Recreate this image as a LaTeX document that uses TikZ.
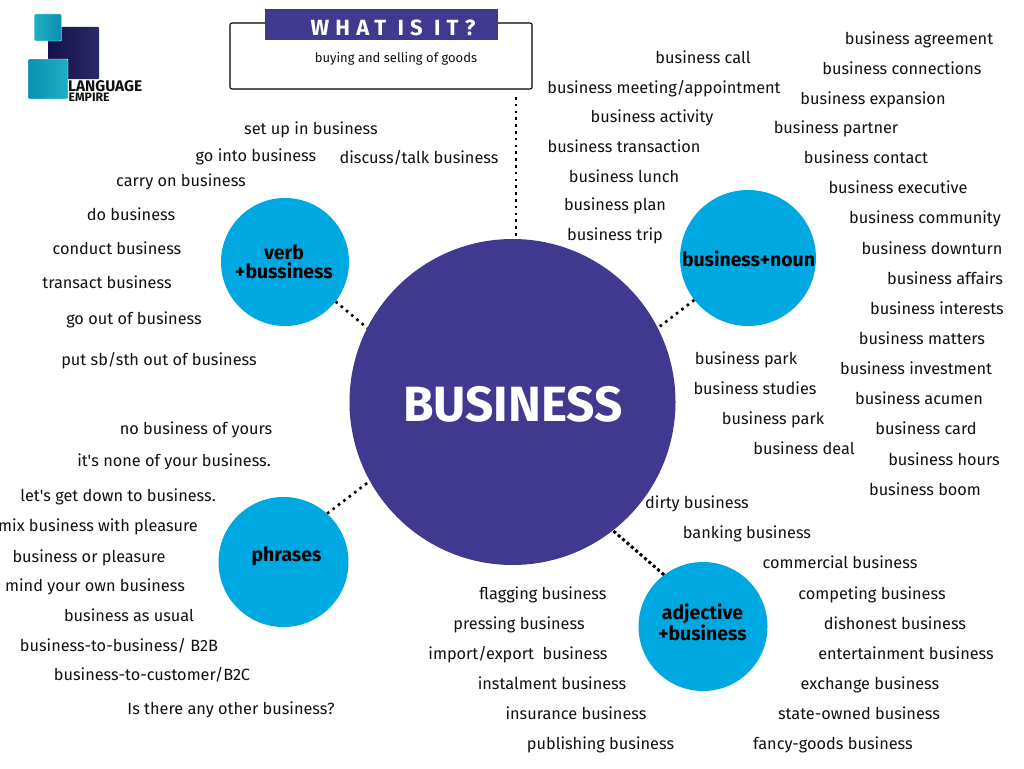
\documentclass[tikz,border=0pt]{standalone}
\usepackage{fontspec}
\usepackage{xcolor}
\usetikzlibrary{calc}
\setmainfont{Fira Sans}
\definecolor{royal}{HTML}{41398F}
\definecolor{sky}{HTML}{00A8E1}
\definecolor{ink}{HTML}{111111}
\definecolor{tealA}{HTML}{0A8FB2}
\definecolor{tealB}{HTML}{1FB0C4}
\definecolor{navyA}{HTML}{14124A}
\definecolor{navyB}{HTML}{2A2A68}
\tikzset{
  termtext/.style={text=ink,inner sep=0pt,text height=14.5pt,text depth=3.5pt,
                   font=\fontsize{16.3}{19}\selectfont},
  hubcircle/.style={circle,fill=sky,inner sep=0pt},
  hublabel/.style={inner sep=0pt,align=center,text=black,
                   font=\fontsize{19.4}{19}\selectfont\bfseries},
  mainhub/.style={circle,fill=royal,inner sep=0pt},
  dotlink/.style={draw=black,line width=2.6pt,dash pattern=on 2.6pt off 4.2pt},
  thicklink/.style={draw=black,line width=3pt,dash pattern=on 3pt off 2.8pt},
  logotile/.style={inner sep=0pt,rounded corners=1pt},
  logotext/.style={inner sep=0pt,text=ink,anchor=base west}
}
\begin{document}
\begin{tikzpicture}[x=1pt,y=-1pt]
    \path[use as bounding box,fill=white] (0,0) rectangle (1024,768);
    % logo
    \node[logotile,minimum width=51pt,minimum height=52pt,left color=navyA,right color=navyB] (lognavy) at (73.5,53) {};
    \node[logotile,draw=white,minimum width=27pt,minimum height=27pt,left color=tealB,right color=tealA] (logsmall) at (48,27.5) {};
    \node[logotile,draw=white,minimum width=40pt,minimum height=40pt,left color=tealA,right color=tealB] (logbig) at (48,79) {};
    \node[logotext,font=\fontsize{15.4}{16}\selectfont\bfseries] (logline) at (68,91) {LANGUAGE};
    \node[logotext,font=\fontsize{12.2}{13}\selectfont\bfseries] (logempire) at (68.5,101) {EMPIRE};
    % what is it box
    \node[draw=black,line width=1.1pt,rounded corners=2pt,minimum width=302pt,minimum height=66pt,inner sep=0pt] (defbox) at (381,56) {};
    \node[fill=royal,minimum width=233pt,minimum height=31pt,inner sep=0pt] (banner) at (381.5,24.5) {};
    \node[inner sep=0pt,text=white,font=\fontsize{22}{24}\selectfont\bfseries\addfontfeature{LetterSpace=28}] (bantitle) at (393,27.5) {WHAT IS IT?};
    \node[termtext,font=\fontsize{13}{15}\selectfont] (defline) at (396,57) {buying and selling of goods};
    % hubs
    \node[mainhub,minimum size=326pt] (main) at (512.5,402) {};
    \node[inner sep=0pt,text=white,font=\fontsize{49.5}{50}\selectfont\bfseries] (maintext) at (513,404) {BUSINESS};
    \node[hubcircle,minimum size=128pt] (verbhub) at (285,262) {};
    \node[hubcircle,minimum size=136pt] (nounhub) at (748,258) {};
    \node[hubcircle,minimum size=130pt] (phrasehub) at (283.5,562) {};
    \node[hubcircle,minimum size=129pt] (adjhub) at (703,626.5) {};
    \node[hublabel] (verbtext) at (284,262) {verb\\+bussiness};
    \node[hublabel] (nountext) at (748.5,259) {business+noun};
    \node[hublabel] (phrasetext) at (286.5,556.5) {phrases};
    \node[hublabel] (adjtext) at (702.5,622.5) {adjective\\+business};
    % connectors
    \coordinate (boxfoot) at (516,97);
    \draw[dotlink] (boxfoot) -- (boxfoot |- main.north);
    \draw[dotlink] (verbhub.-38) -- (main.153);
    \draw[dotlink] (nounhub.218) -- (main.27);
    \draw[dotlink] (phrasehub.48) -- (main.209.5);
    \draw[thicklink] (adjhub.127) -- (main.-52);
    % verb terms
    \node[termtext] (vsetup) at (311,129) {set up in business};
    \node[termtext] (vgointo) at (256,156) {go into business};
    \node[termtext] (vdiscuss) at (419,158) {discuss/talk business};
    \node[termtext] (vcarry) at (181,181) {carry on business};
    \node[termtext] (vdo) at (131,215) {do business};
    \node[termtext] (vconduct) at (117,249) {conduct business};
    \node[termtext] (vtransact) at (107,283) {transact business};
    \node[termtext] (vgoout) at (134,319) {go out of business};
    \node[termtext] (vputout) at (159,360) {put sb/sth out of business};
    % phrases
    \node[termtext] (pyours) at (196,429) {no business of yours};
    \node[termtext] (pnone) at (174,461) {it\textquotesingle s none of your business.};
    \node[termtext] (pdown) at (118,496) {let\textquotesingle s get down to business.};
    \node[termtext] (pmix) at (98,526) {mix business with pleasure};
    \node[termtext] (por) at (89,557) {business or pleasure};
    \node[termtext] (pmind) at (95,586) {mind your own business};
    \node[termtext] (pusual) at (129,616) {business as usual};
    \node[termtext] (pbtob) at (119,646) {business-to-business/ B2B};
    \node[termtext] (pbtoc) at (152,675) {business-to-customer/B2C};
    \node[termtext] (pother) at (231,709) {Is there any other business?};
    % adjective terms
    \node[termtext] (aflag) at (543,594) {flagging business};
    \node[termtext] (apress) at (519,624) {pressing business};
    \node[termtext] (aimport) at (518,654) {import/export\ \ business};
    \node[termtext] (ainstal) at (552,684) {instalment business};
    \node[termtext] (ainsur) at (576,714) {insurance business};
    \node[termtext] (apublish) at (600.5,744) {publishing business};
    \node[termtext] (adirty) at (697,503) {dirty business};
    \node[termtext] (abank) at (747,533) {banking business};
    \node[termtext] (acomm) at (840,563) {commercial business};
    \node[termtext] (acomp) at (872,594) {competing business};
    \node[termtext] (adish) at (895,624) {dishonest business};
    \node[termtext] (aenter) at (906,654) {entertainment business};
    \node[termtext] (aexch) at (870,684) {exchange business};
    \node[termtext] (astate) at (859,714) {state-owned business};
    \node[termtext] (afancy) at (833,744) {fancy-goods business};
    % noun terms, left column
    \node[termtext] (ncall) at (703,58) {business call};
    \node[termtext] (nmeet) at (664,88) {business meeting/appointment};
    \node[termtext] (nactiv) at (652,117) {business activity};
    \node[termtext] (ntrans) at (624,147) {business transaction};
    \node[termtext] (nlunch) at (624,177) {business lunch};
    \node[termtext] (nplan) at (615,205) {business plan};
    \node[termtext] (ntrip) at (615,235) {business trip};
    % noun terms, right column
    \node[termtext] (nagree) at (919,39) {business agreement};
    \node[termtext] (nconn) at (902,69) {business connections};
    \node[termtext] (nexpan) at (873,99) {business expansion};
    \node[termtext] (npartner) at (836,128) {business partner};
    \node[termtext] (ncontact) at (866,158) {business contact};
    \node[termtext] (nexec) at (898,188) {business executive};
    \node[termtext] (ncommun) at (925,218) {business community};
    \node[termtext] (ndown) at (932,249) {business downturn};
    \node[termtext] (naffair) at (945,279) {business affairs};
    \node[termtext] (ninter) at (937,309) {business interests};
    \node[termtext] (nmatter) at (922,339) {business matters};
    \node[termtext] (ninvest) at (916,369) {business investment};
    \node[termtext] (nacumen) at (919,399) {business acumen};
    \node[termtext] (ncard) at (926,429) {business card};
    \node[termtext] (nhours) at (944,460) {business hours};
    \node[termtext] (nboom) at (925,490) {business boom};
    % noun terms, inner column
    \node[termtext] (nparka) at (746,359) {business park};
    \node[termtext] (nstud) at (755,389) {business studies};
    \node[termtext] (nparkb) at (773,419) {business park};
    \node[termtext] (ndeal) at (804,449) {business deal};
\end{tikzpicture}
\end{document}
